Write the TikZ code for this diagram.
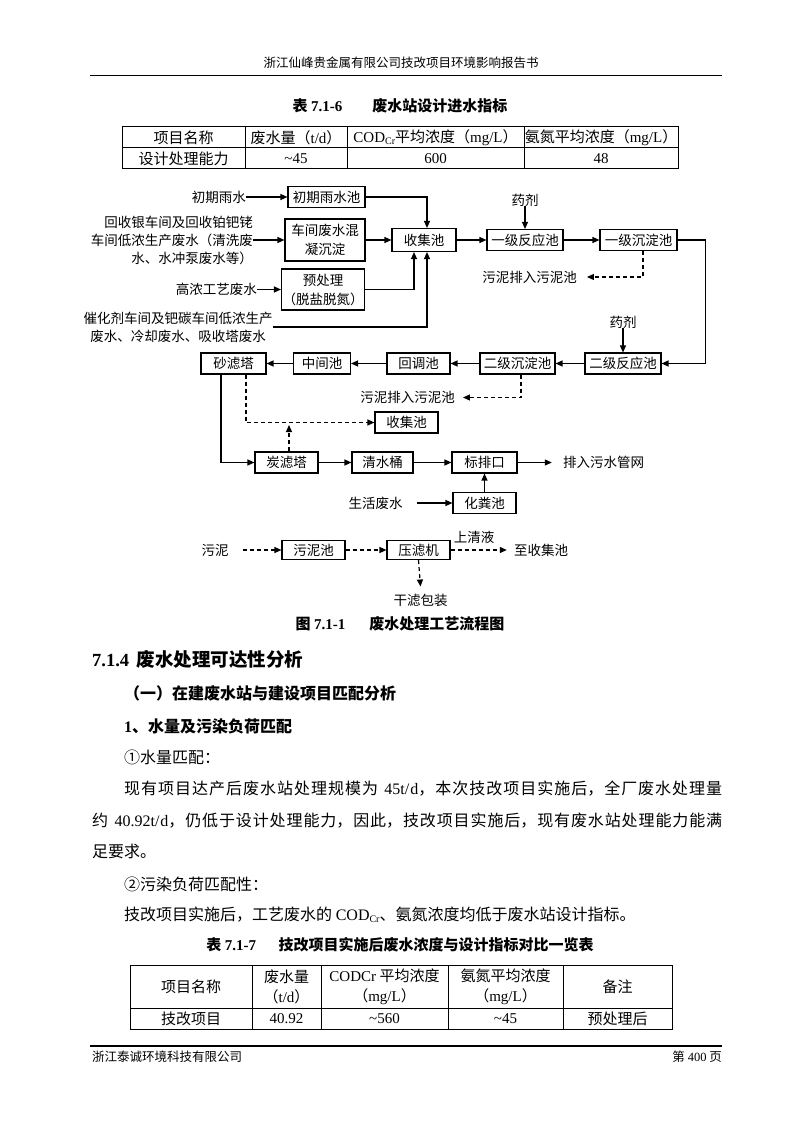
\documentclass[tikz,border=0pt]{standalone}
\usepackage{fontspec}
\setmainfont{Noto Sans CJK SC}
\newfontfamily\latfont{Liberation Serif}
\newcommand\lat[1]{{\latfont #1}}
\newcommand\subtxt[1]{\raisebox{-0.3ex}{\fontsize{10}{10}\selectfont #1}}
\newcommand\fullline[2]{\parbox{#1}{\parindent=0pt\parfillskip=0pt\relax #2}}
\XeTeXlinebreaklocale "zh"
\XeTeXlinebreakskip=0pt plus 2pt
\usetikzlibrary{arrows.meta}

\begin{document}
\begin{tikzpicture}[x=1pt, y=-1pt,
  box/.style={draw, line width=1.1pt, inner sep=1pt, minimum height=21pt, align=center,
              font=\fontsize{13.5}{19}\selectfont},
  lbl/.style={inner sep=0pt, align=center, font=\fontsize{13.5}{18}\selectfont},
  arr/.style={-{Triangle[length=7pt, width=6pt]}, line width=1.2pt},
  darr/.style={arr, dash pattern=on 4pt off 3pt},
  tbl/.style={line width=1pt},
  cell/.style={inner sep=0pt, align=center, font=\fontsize{15}{20}\selectfont},
  body/.style={anchor=west, inner sep=0pt, font=\fontsize{16}{20}\selectfont},
  secttl/.style={anchor=west, inner sep=0pt, font=\fontsize{16}{20}\selectfont\bfseries},
  captxt/.style={inner sep=0pt, font=\fontsize{15}{18}\selectfont\bfseries},
  small/.style={inner sep=0pt, font=\fontsize{12.5}{15}\selectfont},
]
\fill[white] (0,0) rectangle (800,1131);
\useasboundingbox (0,0) rectangle (800,1131);

% ---------- Page header ----------
\node[small] (hdr) at (401,63) {浙江仙峰贵金属有限公司技改项目环境影响报告书};
\draw[line width=1.2pt] (90,75.5) -- (722,75.5);

% ---------- Table 7.1-6 ----------
\node[captxt] (cap1) at (400,106) {表 \lat{7.1-6}\hspace{2em}废水站设计进水指标};
\draw[tbl] (122,127) rectangle (678,169);
\draw[tbl] (122,148) -- (678,148);
\foreach \x in {245,347,524} \draw[tbl] (\x,127) -- (\x,169);
\node[cell] (t1a) at (183.5,137.5) {项目名称};
\node[cell] (t1b) at (296,137.5) {废水量（\lat{t/d}）};
\node[cell] (t1c) at (435.5,137.5) {\lat{COD\subtxt{Cr}}平均浓度（\lat{mg/L}）};
\node[cell] (t1d) at (601,137.5) {氨氮平均浓度（\lat{mg/L}）};
\node[cell] (t1e) at (183.5,158.5) {设计处理能力};
\node[cell] (t1f) at (296,158.5) {\lat{\textasciitilde45}};
\node[cell] (t1g) at (435.5,158.5) {\lat{600}};
\node[cell] (t1h) at (601,158.5) {\lat{48}};

% ---------- Inflows to the collection pool ----------
\node[lbl, anchor=east] (rain) at (246,197) {初期雨水};
\node[box, minimum width=77pt] (pool1) at (326.5,197) {初期雨水池};
\node[lbl, anchor=east, align=right] (lowin) at (253,240) {回收银车间及回收铂钯铑\\车间低浓生产废水（清洗废\\水、水冲泵废水等）};
\node[box, minimum width=80pt, minimum height=42pt] (mix) at (325,240) {车间废水混\\凝沉淀};
\node[lbl, anchor=east] (high) at (257,289.5) {高浓工艺废水};
\node[box, minimum width=80pt, minimum height=41pt] (pre) at (323,289.5) {预处理\\（脱盐脱氮）};
\node[lbl] (cat) at (178,327) {催化剂车间及钯碳车间低浓生产\\废水、冷却废水、吸收塔废水};
\node[box, minimum width=64pt, minimum height=23pt] (col1) at (424,240) {收集池};

\draw[arr] (rain) -- (pool1);
\draw[arr] (lowin.east) -- (mix);
\draw[arr] (high) -- (pre);
\draw[arr] (mix) -- (col1);
\draw[arr] (pool1.east) -| ([xshift=3pt]col1.north);
\draw[arr] (pre.east) -| ([xshift=-10pt]col1.south);
\draw[arr] (cat.east) -| ([xshift=3pt]col1.south);

% ---------- First stage ----------
\node[box, minimum width=76pt] (r1) at (525,240) {一级反应池};
\node[box, minimum width=77pt] (s1) at (638.5,240) {一级沉淀池};
\node[lbl] (dose1) at (525,200) {药剂};
\node[lbl] (sl1) at (529.5,277) {污泥排入污泥池};
\draw[arr] (col1) -- (r1);
\draw[arr] (r1) -- (s1);
\draw[arr] (dose1) -- (r1);
\draw[darr] ([xshift=4.5pt]s1.south) |- ([xshift=10pt]sl1.east);

% ---------- Second stage (right to left) ----------
\node[box, minimum width=76pt] (r2) at (623,363.5) {二级反应池};
\node[lbl] (dose2) at (623,322) {药剂};
\node[box, minimum width=75pt] (s2) at (517.5,363.5) {二级沉淀池};
\node[box, minimum width=63pt] (adj) at (418.5,363.5) {回调池};
\node[box, minimum width=57pt] (mid) at (322,363.5) {中间池};
\node[box, minimum width=65pt] (sand) at (233.5,363.5) {砂滤塔};
\node[lbl] (sl2) at (407.5,397.5) {污泥排入污泥池};
\draw[arr] (s1.east) -- ++(28,0) |- (r2.east);
\draw[arr] (dose2) -- (r2);
\draw[arr] (r2) -- (s2);
\draw[arr] (s2) -- (adj);
\draw[arr] (adj) -- (mid);
\draw[arr] (mid) -- (sand);
\draw[darr] ([xshift=3.5pt]s2.south) |- ([xshift=8pt]sl2.east);

% ---------- Filtration and discharge ----------
\node[box, minimum width=63pt] (col2) at (406.5,422.5) {收集池};
\node[box, minimum width=63pt] (carbon) at (286.5,462.5) {炭滤塔};
\node[box, minimum width=61pt] (tank) at (382.5,462.5) {清水桶};
\node[box, minimum width=65pt] (outlet) at (484.5,462.5) {标排口};
\node[lbl] (sewer) at (603.5,462.5) {排入污水管网};
\node[box, minimum width=63pt] (septic) at (484.5,503) {化粪池};
\node[lbl] (dom) at (375.5,503) {生活废水};
\coordinate (join) at (289,425);
\draw[darr] ([xshift=12.5pt]sand.south) |- (col2.west);
\draw[darr] ([xshift=2.5pt]carbon.north) -- (join);
\draw[arr] ([xshift=-12.5pt]sand.south) |- (carbon.west);
\draw[arr] (carbon) -- (tank);
\draw[arr] (tank) -- (outlet);
\draw[arr] (outlet) -- ([xshift=-11pt]sewer.west);
\draw[arr] ([xshift=14pt]dom.east) -- (septic.west);
\draw[arr] (septic) -- (outlet);

% ---------- Sludge line ----------
\node[lbl] (mud) at (215,550) {污泥};
\node[box, minimum width=63pt, minimum height=19pt] (sludge) at (313.5,550) {污泥池};
\node[box, minimum width=63pt, minimum height=19pt] (press) at (418.5,550) {压滤机};
\node[lbl] (back) at (541,550) {至收集池};
\node[lbl] (clear) at (474,537) {上清液};
\node[lbl] (dry) at (420.5,600) {干滤包装};
\draw[darr] ([xshift=14pt]mud.east) -- (sludge);
\draw[darr] (sludge) -- (press);
\draw[darr] (press.east) -- ([xshift=-7pt]back.west);
\draw[darr] (press.south) -- ([yshift=7pt]dry.north);

\node[captxt] (fig) at (400,624) {图 \lat{7.1-1}\hspace{1.6em}废水处理工艺流程图};

% ---------- Text body ----------
\node[secttl, font=\fontsize{18.5}{22}\selectfont\bfseries] (sec) at (92,659) {\lat{7.1.4}\hspace{0.4em}废水处理可达性分析};
\node[secttl] (sub1) at (124,693.5) {（一）在建废水站与建设项目匹配分析};
\node[secttl] (sub2) at (124,726) {\lat{1}、水量及污染负荷匹配};
\node[body] (w1) at (124,757) {①水量匹配：};
\node[body] (p1a) at (124,788.5) {\fullline{598pt}{现有项目达产后废水站处理规模为\hspace{0.4em}\lat{45t/d}，本次技改项目实施后，全厂废水处理量}};
\node[body] (p1b) at (92,820.5) {\fullline{630pt}{约\hspace{0.4em}\lat{40.92t/d}，仍低于设计处理能力，因此，技改项目实施后，现有废水站处理能力能满}};
\node[body] (p1c) at (92,851.5) {足要求。};
\node[body] (w2) at (124,884) {②污染负荷匹配性：};
\node[body] (p2) at (124,914.5) {技改项目实施后，工艺废水的 \lat{COD\subtxt{Cr}}、氨氮浓度均低于废水站设计指标。};

% ---------- Table 7.1-7 ----------
\node[captxt] (cap2) at (400,945) {表 \lat{7.1-7}\hspace{1.5em}技改项目实施后废水浓度与设计指标对比一览表};
\draw[tbl] (130,965) rectangle (672,1029);
\draw[tbl] (130,1008) -- (672,1008);
\foreach \x in {252,321,448,563} \draw[tbl] (\x,965) -- (\x,1029);
\node[cell] (t2a) at (191,986.5) {项目名称};
\node[cell] (t2b) at (286.5,986.5) {废水量\\（\lat{t/d}）};
\node[cell] (t2c) at (384.5,986.5) {\lat{CODCr} 平均浓度\\（\lat{mg/L}）};
\node[cell] (t2d) at (505.5,986.5) {氨氮平均浓度\\（\lat{mg/L}）};
\node[cell] (t2e) at (617.5,986.5) {备注};
\node[cell] (t2f) at (191,1018.5) {技改项目};
\node[cell] (t2g) at (286.5,1018.5) {\lat{40.92}};
\node[cell] (t2h) at (384.5,1018.5) {\lat{\textasciitilde560}};
\node[cell] (t2i) at (505.5,1018.5) {\lat{\textasciitilde45}};
\node[cell] (t2j) at (617.5,1018.5) {预处理后};

% ---------- Page footer ----------
\draw[line width=1.2pt] (90,1046) -- (722,1046);
\node[small, anchor=west] (foot) at (92,1057) {浙江泰诚环境科技有限公司};
\node[small, anchor=east] (pageno) at (722,1057) {第 \lat{400} 页};
\end{tikzpicture}
\end{document}
